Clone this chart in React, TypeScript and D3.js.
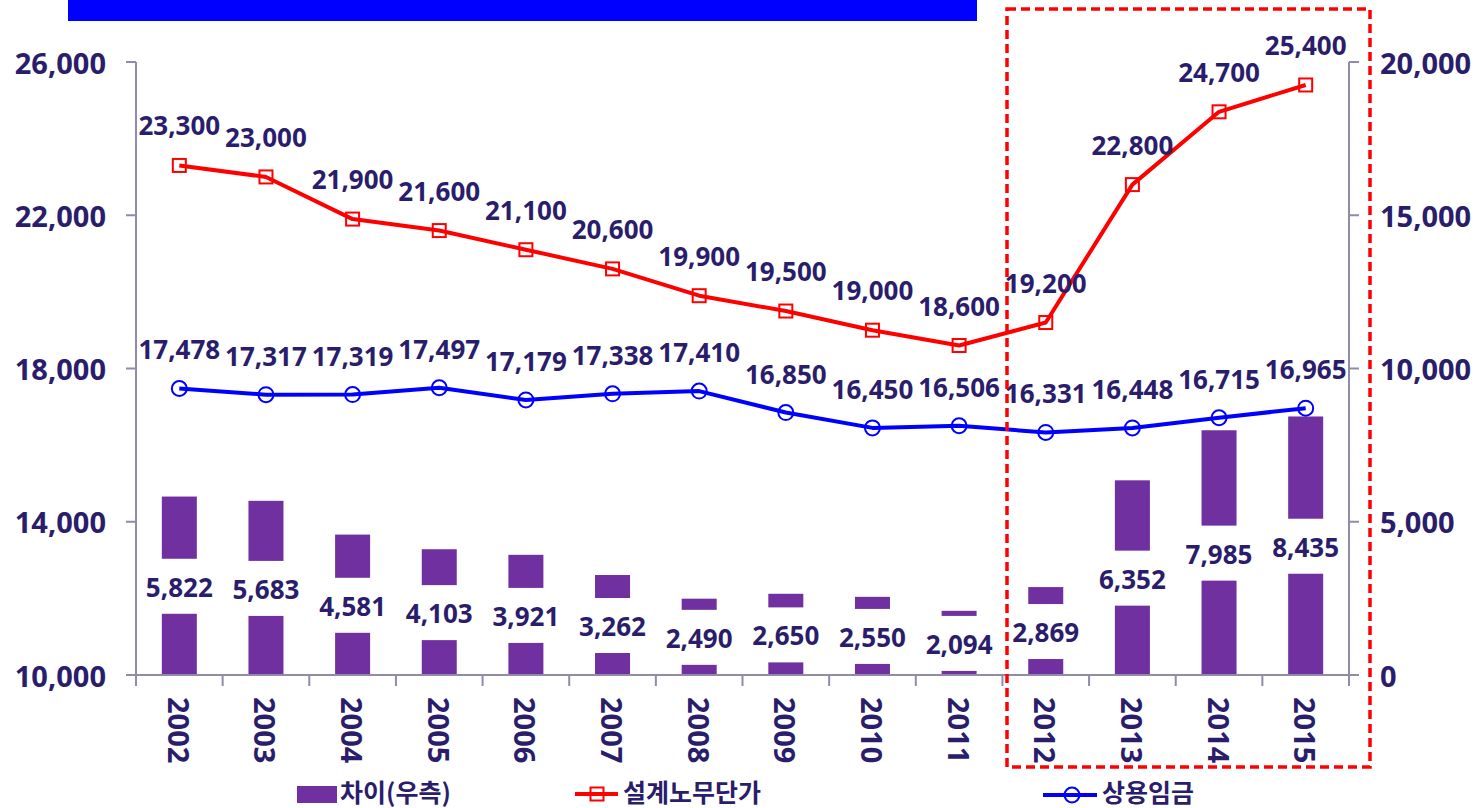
import React from 'react';
import * as d3 from 'd3';

const years = ['2002','2003','2004','2005','2006','2007','2008','2009','2010','2011','2012','2013','2014','2015'];
const diffValues = [5822,5683,4581,4103,3921,3262,2490,2650,2550,2094,2869,6352,7985,8435];
const designWage = [23300,23000,21900,21600,21100,20600,19900,19500,19000,18600,19200,22800,24700,25400];
const regularWage = [17478,17317,17319,17497,17179,17338,17410,16850,16450,16506,16331,16448,16715,16965];
const leftTicks = [10000,14000,18000,22000,26000];
const rightTicks = [0,5000,10000,15000,20000];
const legendLabels = ['차이(우측)','설계노무단가','상용임금'];

const TEXT = '#2A1D6B';
const AXIS = '#8F8BA8';
const BAR = '#7030A0';
const RED = '#FF0000';
const BLUE = '#0000FF';
const FONT = '"Noto Sans", "Noto Sans CJK KR", sans-serif';
const KFONT = '"Noto Sans CJK KR", "Noto Sans", sans-serif';

export default function App() {
  const left = 136, right = 1349, top = 62, bottom = 675;
  const x = d3.scaleBand<string>().domain(years).range([left, right]).padding(0);
  const yL = d3.scaleLinear().domain([10000, 26000]).range([bottom, top]);
  const yR = d3.scaleLinear().domain([0, 20000]).range([bottom, top]);
  const fmt = d3.format(',');
  const cx = (i: number) => (x(years[i]) as number) + x.bandwidth() / 2;
  const barW = 35;

  const redLine = d3.line<number>().x((_, i) => cx(i)).y(d => yL(d))(designWage) as string;
  const blueLine = d3.line<number>().x((_, i) => cx(i)).y(d => yL(d))(regularWage) as string;

  return (
    <svg width={1482} height={808} style={{ position: 'absolute', left: 0, top: 0, background: '#fff' }} fontFamily={FONT}>
      {/* top blue banner */}
      <rect x={68} y={0} width={909} height={21} fill={BLUE} />

      {/* bars */}
      {diffValues.map((v, i) => (
        <rect key={'b' + i} x={cx(i) - barW / 2} y={yR(v)} width={barW} height={bottom - yR(v)} fill={BAR} />
      ))}
      {/* bar labels with white boxes */}
      {diffValues.map((v, i) => {
        const mid = (yR(v) + bottom) / 2;
        return (
          <g key={'bl' + i}>
            <rect x={cx(i) - 42} y={mid - 27} width={84} height={55} fill="#fff" />
            <text x={cx(i)} y={mid + 1} textAnchor="middle" dominantBaseline="central" fontSize={26} fontWeight="bold" fill={TEXT}>{fmt(v)}</text>
          </g>
        );
      })}

      {/* axes */}
      <line x1={left} x2={left} y1={top} y2={bottom} stroke={AXIS} strokeWidth={2} />
      <line x1={right} x2={right} y1={top} y2={bottom} stroke={AXIS} strokeWidth={2} />
      <line x1={left} x2={right} y1={bottom} y2={bottom} stroke={AXIS} strokeWidth={2} />
      {leftTicks.map(t => (
        <g key={'lt' + t}>
          <line x1={left - 10} x2={left} y1={yL(t)} y2={yL(t)} stroke={AXIS} strokeWidth={2} />
          <text x={106} y={yL(t)} textAnchor="end" dominantBaseline="central" fontSize={29} fontWeight="bold" fill={TEXT}>{fmt(t)}</text>
        </g>
      ))}
      {rightTicks.map(t => (
        <g key={'rt' + t}>
          <line x1={right} x2={right + 10} y1={yR(t)} y2={yR(t)} stroke={AXIS} strokeWidth={2} />
          <text x={1380} y={yR(t)} textAnchor="start" dominantBaseline="central" fontSize={29} fontWeight="bold" fill={TEXT}>{fmt(t)}</text>
        </g>
      ))}
      {years.map((yv, i) => (
        <line key={'xt' + i} x1={x(yv) as number} x2={x(yv) as number} y1={bottom} y2={bottom + 11} stroke={AXIS} strokeWidth={2} />
      ))}
      <line x1={right} x2={right} y1={bottom} y2={bottom + 11} stroke={AXIS} strokeWidth={2} />
      {years.map((yv, i) => (
        <text key={'xl' + i} transform={`translate(${cx(i)},697) rotate(90)`} textAnchor="start" dominantBaseline="central" fontSize={29} fontWeight="bold" fill={TEXT}>{yv}</text>
      ))}

      {/* lines */}
      <path d={redLine} fill="none" stroke={RED} strokeWidth={4} strokeLinejoin="round" />
      {designWage.map((v, i) => (
        <rect key={'rm' + i} x={cx(i) - 6.5} y={yL(v) - 6.5} width={13} height={13} fill="none" stroke={RED} strokeWidth={2} />
      ))}
      <path d={blueLine} fill="none" stroke={BLUE} strokeWidth={4} strokeLinejoin="round" />
      {regularWage.map((v, i) => (
        <circle key={'bm' + i} cx={cx(i)} cy={yL(v)} r={7.5} fill="none" stroke={BLUE} strokeWidth={2} />
      ))}
      {designWage.map((v, i) => (
        <text key={'rl' + i} x={cx(i)} y={yL(v) - 40} textAnchor="middle" dominantBaseline="central" fontSize={26} fontWeight="bold" fill={TEXT}>{fmt(v)}</text>
      ))}
      {regularWage.map((v, i) => (
        <text key={'bll' + i} x={cx(i)} y={yL(v) - 39} textAnchor="middle" dominantBaseline="central" fontSize={26} fontWeight="bold" fill={TEXT}>{fmt(v)}</text>
      ))}

      {/* red dashed highlight */}
      <rect x={1007} y={9} width={363} height={758} fill="none" stroke={RED} strokeWidth={3.5} strokeDasharray="9 5" />

      {/* legend */}
      <rect x={297} y={786} width={40} height={17} fill={BAR} />
      <text x={340} y={791} dominantBaseline="central" fontSize={25} fontWeight="bold" fill={TEXT} fontFamily={KFONT}>{legendLabels[0]}</text>
      <line x1={575} x2={618} y1={794} y2={794} stroke={RED} strokeWidth={4} />
      <rect x={590.5} y={787.5} width={13} height={13} fill="none" stroke={RED} strokeWidth={2} />
      <text x={623} y={791} dominantBaseline="central" fontSize={25} fontWeight="bold" fill={TEXT} fontFamily={KFONT}>{legendLabels[1]}</text>
      <line x1={1043} x2={1097} y1={795} y2={795} stroke={BLUE} strokeWidth={4} />
      <circle cx={1072} cy={795} r={7.5} fill="none" stroke={BLUE} strokeWidth={2} />
      <text x={1102} y={791} dominantBaseline="central" fontSize={25} fontWeight="bold" fill={TEXT} fontFamily={KFONT}>{legendLabels[2]}</text>
    </svg>
  );
}
